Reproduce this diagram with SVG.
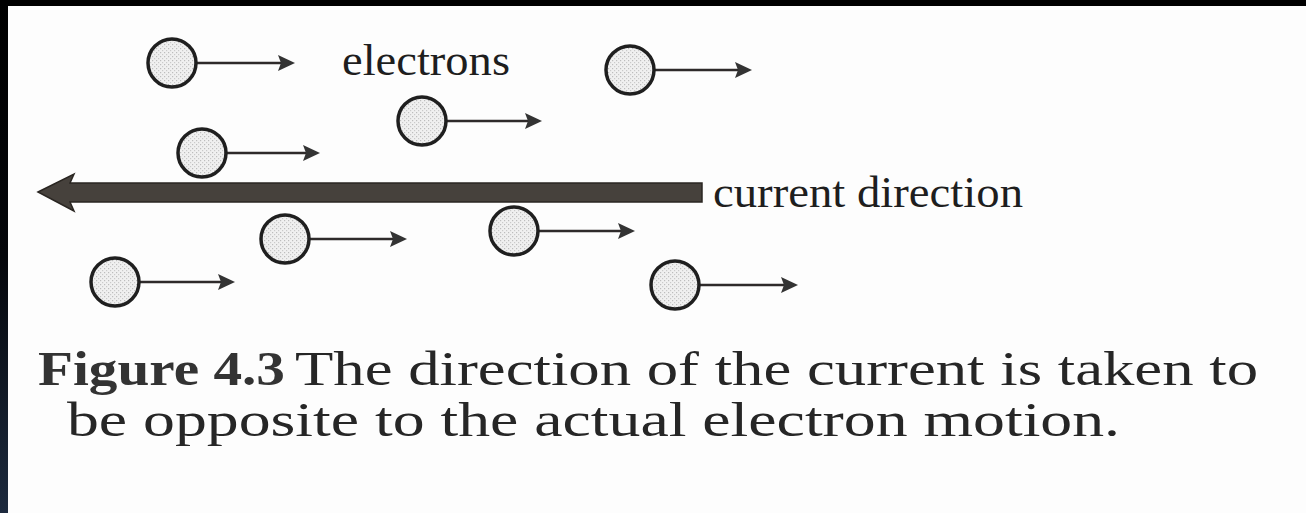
<svg xmlns="http://www.w3.org/2000/svg" width="1306" height="513" viewBox="0 0 1306 513">
  <style>
    .electron { stroke: #1f1f1f; stroke-width: 3.5; fill: url(#stipple); }
    .vel { stroke: #2e2a2a; stroke-width: 2.6; fill: none; marker-end: url(#head); }
    .lbl { font-family: "Liberation Serif", "Times New Roman", serif; font-size: 44px; fill: #1e1e1e; }
    .cap { font-family: "Liberation Serif", "Times New Roman", serif; font-size: 49px; fill: #262626; }
    .capb { font-weight: bold; fill: #333; }
  </style>
  <defs>
    <pattern id="stipple" width="4" height="4" patternUnits="userSpaceOnUse">
      <rect width="4" height="4" fill="#f0f0f0"/>
      <rect x="0" y="0" width="1.2" height="1.2" fill="#bdbdbd"/>
      <rect x="2" y="2" width="1.2" height="1.2" fill="#cacaca"/>
    </pattern>
    <marker id="head" markerUnits="userSpaceOnUse" markerWidth="18" markerHeight="18" refX="5" refY="8" orient="auto" viewBox="0 0 18 16">
      <path d="M0,0 L17,8 L0,16 L3,8 z" fill="#333"/>
    </marker>
    <linearGradient id="edge" x1="0" y1="0" x2="0" y2="1">
      <stop offset="0" stop-color="#000"/>
      <stop offset="0.5" stop-color="#05070b"/>
      <stop offset="1" stop-color="#1d2a3e"/>
    </linearGradient>
  </defs>

  <rect width="1306" height="513" fill="#fdfdfd"/>
  <rect x="0" y="0" width="1306" height="6" fill="#000"/>
  <rect x="0" y="0" width="8" height="513" fill="url(#edge)"/>

  <g id="connectors">
    <line class="vel" x1="196" y1="63" x2="283" y2="63"/>
    <line class="vel" x1="226" y1="153" x2="308" y2="153"/>
    <line class="vel" x1="446" y1="121" x2="530" y2="121"/>
    <line class="vel" x1="654" y1="70" x2="740" y2="70"/>
    <line class="vel" x1="309" y1="239" x2="395" y2="239"/>
    <line class="vel" x1="139" y1="282" x2="223" y2="282"/>
    <line class="vel" x1="538" y1="231" x2="623" y2="231"/>
    <line class="vel" x1="699" y1="285" x2="786" y2="285"/>
  </g>

  <g id="electron-1"><circle class="electron" cx="172" cy="63" r="24"/></g>
  <g id="electron-2"><circle class="electron" cx="202" cy="153" r="24"/></g>
  <g id="electron-3"><circle class="electron" cx="422" cy="121" r="24"/></g>
  <g id="electron-4"><circle class="electron" cx="630" cy="70" r="24"/></g>
  <g id="electron-5"><circle class="electron" cx="285" cy="239" r="24"/></g>
  <g id="electron-6"><circle class="electron" cx="115" cy="282" r="24"/></g>
  <g id="electron-7"><circle class="electron" cx="514" cy="231" r="24"/></g>
  <g id="electron-8"><circle class="electron" cx="675" cy="285" r="24"/></g>

  <g id="current-arrow">
    <path d="M38,192 L74,174 L70,183 L702,183 L702,202 L70,202 L74,211 z" fill="#46413c" stroke="#2a2622" stroke-width="1.5" stroke-linejoin="miter"/>
  </g>

  <g id="label-electrons">
    <text class="lbl" x="342" y="75" textLength="168" lengthAdjust="spacingAndGlyphs">electrons</text>
  </g>
  <g id="label-current">
    <text class="lbl" x="713" y="207" textLength="310" lengthAdjust="spacingAndGlyphs">current direction</text>
  </g>

  <g id="caption">
    <text class="cap capb" x="38" y="385" textLength="247" lengthAdjust="spacingAndGlyphs">Figure 4.3</text>
    <text class="cap" x="295" y="385" textLength="963" lengthAdjust="spacingAndGlyphs">The direction of the current is taken to</text>
    <text class="cap" x="67" y="436" textLength="1053" lengthAdjust="spacingAndGlyphs">be opposite to the actual electron motion.</text>
  </g>
</svg>
